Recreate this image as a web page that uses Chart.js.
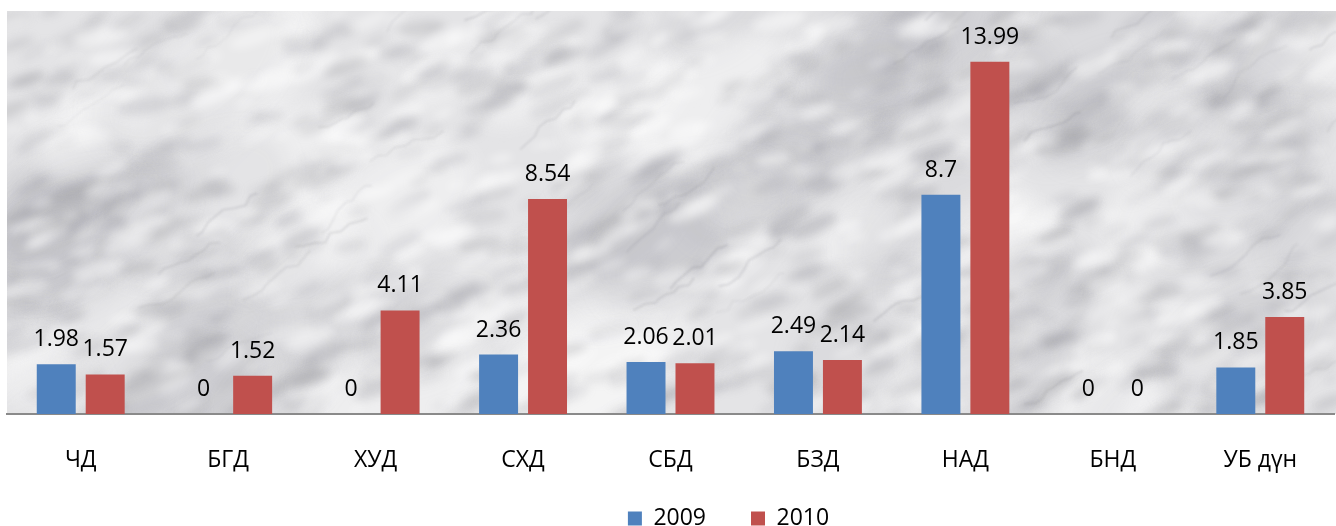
<!DOCTYPE html>
<html><head><meta charset="utf-8">
<script src="https://cdn.jsdelivr.net/npm/chart.js@4.4.1/dist/chart.umd.min.js"></script>
<style>
html,body{margin:0;padding:0;background:#fff;overflow:hidden;width:1336px;height:526px}
#wrap{position:relative;width:1336px;height:556px}
</style></head>
<body><div id="wrap"><canvas id="c"></canvas></div>
<script>
const categories = ['ЧД','БГД','ХУД','СХД','СБД','БЗД','НАД','БНД','УБ дүн'];
const seriesNames = ['2009','2010'];
const values2009 = [1.98, 0, 0, 2.36, 2.06, 2.49, 8.7, 0, 1.85];
const values2010 = [1.57, 1.52, 4.11, 8.54, 2.01, 2.14, 13.99, 0, 3.85];
const yMax = 16;

const FONT = '"Open Sans", "DejaVu Sans", sans-serif';

function hash(n){ const x = Math.sin(n*127.1+311.7)*43758.5453; return x - Math.floor(x); }
let marble = null;
function makeMarble(w, h){
  const cv = document.createElement('canvas'); cv.width = w; cv.height = h;
  const g = cv.getContext('2d');
  g.fillStyle = '#e4e4e6'; g.fillRect(0,0,w,h);
  g.filter = 'blur(10px)';
  for (let i=0;i<90;i++){
    const cx = hash(i)*w, cy = hash(i+500)*h, r = 25+hash(i+1000)*50;
    g.fillStyle = hash(i+1500)<0.5 ? 'rgba(160,160,165,0.12)' : 'rgba(252,252,253,0.4)';
    g.beginPath(); g.ellipse(cx, cy, r*1.6, r*0.9, -0.6, 0, Math.PI*2); g.fill();
  }
  g.filter = 'blur(4px)';
  for (let i=0;i<1100;i++){
    const cx = hash(i+7000)*w, cy = hash(i+8000)*h, r = 4+hash(i+9000)*10;
    const d = hash(i+9500);
    g.fillStyle = d<0.55 ? 'rgba(130,130,138,'+(0.10+0.14*hash(i+9900))+')' : 'rgba(255,255,255,'+(0.25+0.25*hash(i+9900))+')';
    g.beginPath(); g.ellipse(cx, cy, r*2.0, r*0.6, -0.6+0.5*hash(i+10500), 0, Math.PI*2); g.fill();
  }
  g.filter = 'blur(1.2px)';
  for (let i=0;i<45;i++){
    let x = hash(i+3000)*w, y = hash(i+3500)*h;
    g.strokeStyle = 'rgba(120,120,128,'+(0.10+0.12*hash(i+4000))+')';
    g.lineWidth = 0.8+1.2*hash(i+4500);
    g.beginPath(); g.moveTo(x,y);
    for (let k=0;k<8;k++){
      x += 4+8*hash(i*31+k*7+5000);
      y += -8+10*(hash(i*17+k*13+6000)-0.2);
      g.lineTo(x,y);
    }
    g.stroke();
  }
  g.filter = 'none';
  return cv;
}

const marblePlugin = {
  id: 'marble',
  beforeDraw(chart){
    const {ctx, chartArea} = chart;
    const x0 = 7, y0 = chartArea.top, w = chart.width - x0, h = chartArea.bottom - y0;
    if (!marble || marble.width !== Math.round(w)) marble = makeMarble(Math.round(w), Math.round(h));
    ctx.drawImage(marble, x0, y0, w, h);
  }
};

const valueLabels = {
  id: 'valueLabels',
  afterDatasetsDraw(chart){
    const ctx = chart.ctx;
    ctx.save();
    ctx.font = '23px ' + FONT;
    ctx.fillStyle = '#000';
    ctx.textAlign = 'center';
    ctx.textBaseline = 'alphabetic';
    chart.data.datasets.forEach((ds, di) => {
      chart.getDatasetMeta(di).data.forEach((el, i) => {
        ctx.fillText(String(ds.data[i]), el.x, el.y - 18);
      });
    });
    ctx.restore();
  }
};

const legendShift = {
  id: 'legendShift',
  afterLayout(chart){
    const lg = chart.legend;
    if (lg){ lg.left += 58; lg.right += 58; lg.top -= 16; lg.bottom -= 16; }
  }
};

new Chart(document.getElementById('c'), {
  type: 'bar',
  data: {
    labels: categories,
    datasets: [
      { label: seriesNames[0], data: values2009, backgroundColor: '#4F81BD' },
      { label: seriesNames[1], data: values2010, backgroundColor: '#C0504D' }
    ]
  },
  options: {
    responsive: true,
    maintainAspectRatio: false,
    animation: false,
    categoryPercentage: 0.664,
    barPercentage: 0.796,
    layout: { padding: { top: 11, left: 7, right: 2, bottom: 0 } },
    scales: {
      x: {
        grid: { display: false, drawTicks: false },
        border: { display: true, color: '#8a8a8a', width: 2 },
        ticks: { color: '#000', font: { family: FONT, size: 23 }, padding: 33, maxRotation: 0 },
        afterFit(scale){ scale.height = 64; }
      },
      y: { display: false, min: 0, max: yMax }
    },
    plugins: {
      legend: {
        position: 'bottom',
        labels: { color: '#000', font: { family: FONT, size: 23 }, boxWidth: 14, boxHeight: 14, padding: 45 }
      },
      tooltip: { enabled: false }
    }
  },
  plugins: [marblePlugin, valueLabels, legendShift]
});
</script>
</body></html>
